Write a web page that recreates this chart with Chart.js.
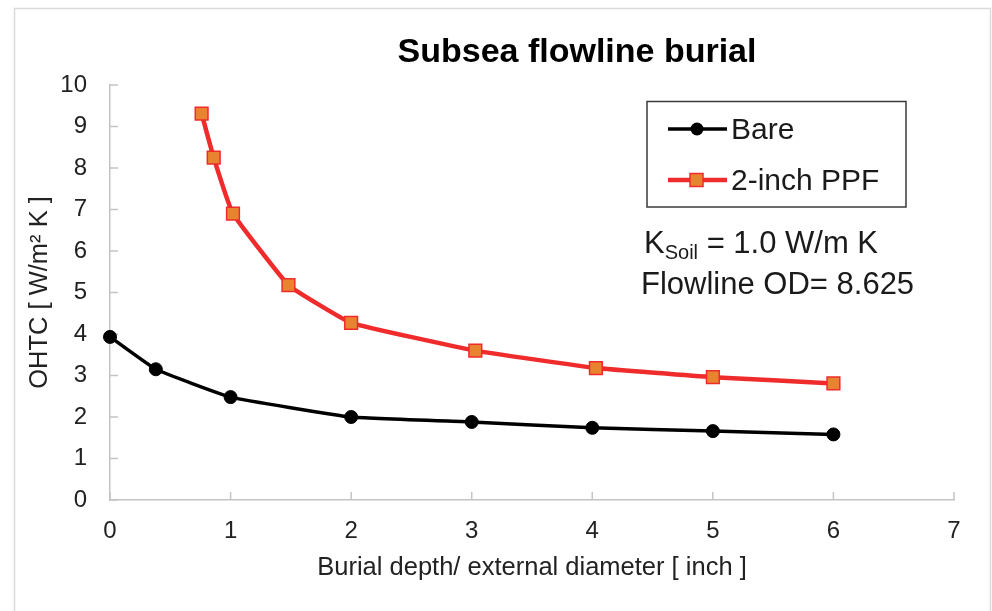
<!DOCTYPE html>
<html><head><meta charset="utf-8">
<script src="https://cdn.jsdelivr.net/npm/chart.js@4.4.0/dist/chart.umd.min.js"></script>
<style>html,body{margin:0;padding:0;background:#fff}#wrap{position:relative;width:992px;height:611px}</style>
</head><body><div id="wrap"><canvas id="c" width="992" height="611"></canvas></div>
<script>
const titleText = 'Subsea flowline burial';
const xTitle = 'Burial depth/ external diameter [ inch ]';
const yTitle = 'OHTC [ W/m\u00B2 K ]';
const seriesNames = ['Bare', '2-inch PPF'];
const bareX = [0, 0.38, 1, 2, 3, 4, 5, 6];
const bareY = [3.93, 3.15, 2.48, 2.0, 1.88, 1.74, 1.66, 1.58];
const ppfX = [0.76, 0.86, 1.02, 1.48, 2, 3.03, 4.03, 5, 6];
const ppfY = [9.31, 8.25, 6.9, 5.18, 4.27, 3.6, 3.18, 2.96, 2.81];
const xTicks = [0, 1, 2, 3, 4, 5, 6, 7];
const yTicks = [0, 1, 2, 3, 4, 5, 6, 7, 8, 9, 10];
const noteLine1 = ['K', 'Soil', ' = 1.0 W/m K'];
const noteLine2 = 'Flowline OD= 8.625';

const FONT = '"Liberation Sans", Arial, sans-serif';
const BLACK = '#000000';
const RED = '#ef2b2b';
const ORANGE = '#e8842f';
const TXT = '#222222';

function pts(xs, ys) { return xs.map((x, i) => ({x: x, y: ys[i]})); }

const extras = {
  id: 'extras',
  beforeDraw(chart) {
    const ctx = chart.ctx;
    ctx.save();
    ctx.fillStyle = '#fff';
    ctx.fillRect(0, 0, chart.width, chart.height);
    ctx.strokeStyle = '#dadada';
    ctx.lineWidth = 1.5;
    ctx.strokeRect(14.5, 8.5, 976, 640);
    ctx.restore();
  },
  beforeDatasetsDraw(chart) {
    const ctx = chart.ctx;
    const xs = chart.scales.x, ys = chart.scales.y;
    ctx.save();
    ctx.strokeStyle = '#c4c4c4';
    ctx.lineWidth = 1.5;
    ctx.beginPath();
    yTicks.forEach(v => {
      const py = ys.getPixelForValue(v);
      ctx.moveTo(xs.left, py); ctx.lineTo(xs.left + 8, py);
    });
    xTicks.forEach(v => {
      const px = xs.getPixelForValue(v);
      ctx.moveTo(px, ys.bottom); ctx.lineTo(px, ys.bottom - 8);
    });
    ctx.stroke();
    ctx.restore();
  },
  afterDraw(chart) {
    const ctx = chart.ctx;
    ctx.save();
    ctx.fillStyle = '#000';
    ctx.font = 'bold 34px ' + FONT;
    ctx.textAlign = 'center';
    ctx.textBaseline = 'alphabetic';
    ctx.fillText(titleText, 577, 62);
    ctx.strokeStyle = '#3a3a3a';
    ctx.lineWidth = 1.5;
    ctx.strokeRect(647, 101.5, 259, 105.5);
    const ds = chart.data.datasets;
    const rows = [129, 180];
    ds.forEach((d, i) => {
      const y = rows[i];
      ctx.strokeStyle = d.borderColor;
      ctx.lineWidth = d.borderWidth;
      ctx.beginPath(); ctx.moveTo(668, y); ctx.lineTo(727, y); ctx.stroke();
      ctx.fillStyle = d.pointBackgroundColor;
      ctx.strokeStyle = d.pointBorderColor;
      ctx.lineWidth = d.pointBorderWidth;
      if (d.pointStyle === 'rect') {
        ctx.fillRect(690, y - 6.5, 13, 13);
        ctx.strokeRect(690, y - 6.5, 13, 13);
      } else {
        ctx.beginPath(); ctx.arc(697, y, 6.5, 0, Math.PI * 2); ctx.fill();
      }
      ctx.fillStyle = '#1a1a1a';
      ctx.font = '30px ' + FONT;
      ctx.textAlign = 'left';
      ctx.fillText(d.label, 731, y + 10);
    });
    ctx.fillStyle = '#1a1a1a';
    ctx.textAlign = 'left';
    ctx.font = '31px ' + FONT;
    let x = 644;
    ctx.fillText(noteLine1[0], x, 253);
    x += ctx.measureText(noteLine1[0]).width;
    ctx.font = '20px ' + FONT;
    ctx.fillText(noteLine1[1], x, 259);
    x += ctx.measureText(noteLine1[1]).width;
    ctx.font = '31px ' + FONT;
    ctx.fillText(noteLine1[2], x, 253);
    ctx.fillText(noteLine2, 641, 294);
    ctx.restore();
  }
};

new Chart(document.getElementById('c'), {
  type: 'scatter',
  data: {
    datasets: [
      {label: seriesNames[0], data: pts(bareX, bareY), showLine: true, clip: false,
       borderColor: BLACK, borderWidth: 3.5, tension: 0.1,
       pointStyle: 'circle', pointRadius: 6.5, pointBackgroundColor: BLACK, pointBorderColor: BLACK, pointBorderWidth: 1},
      {label: seriesNames[1], data: pts(ppfX, ppfY), showLine: true, clip: false,
       borderColor: RED, borderWidth: 4.5, tension: 0.1,
       pointStyle: 'rect', pointRadius: 9, pointBackgroundColor: ORANGE, pointBorderColor: RED, pointBorderWidth: 1.5}
    ]
  },
  options: {
    responsive: false,
    animation: false,
    devicePixelRatio: 1,
    layout: {padding: {top: 85, right: 38, bottom: 0, left: 0}},
    plugins: {legend: {display: false}, title: {display: false}, tooltip: {enabled: false}},
    scales: {
      x: {
        type: 'linear', min: 0, max: 7,
        afterBuildTicks: s => { s.ticks = xTicks.map(v => ({value: v})); },
        afterFit: s => { s.height = 111; },
        grid: {display: true, drawOnChartArea: false, drawTicks: false},
        border: {display: true, color: '#c4c4c4', width: 1.5},
        ticks: {color: TXT, font: {family: FONT, size: 24}, padding: 17, maxRotation: 0},
        title: {display: true, text: xTitle, color: TXT, font: {family: FONT, size: 25.5}, padding: {top: 0, bottom: 28}}
      },
      y: {
        type: 'linear', min: 0, max: 10,
        afterBuildTicks: s => { s.ticks = yTicks.map(v => ({value: v})); },
        afterFit: s => { s.width = 110; },
        grid: {display: true, drawOnChartArea: false, drawTicks: false},
        border: {display: true, color: '#c4c4c4', width: 1.5},
        ticks: {color: TXT, font: {family: FONT, size: 24}, padding: 23},
        title: {display: true, text: yTitle, color: TXT, font: {family: FONT, size: 25.5}, padding: {top: 25, bottom: 0}}
      }
    }
  },
  plugins: [extras]
});
</script></body></html>
